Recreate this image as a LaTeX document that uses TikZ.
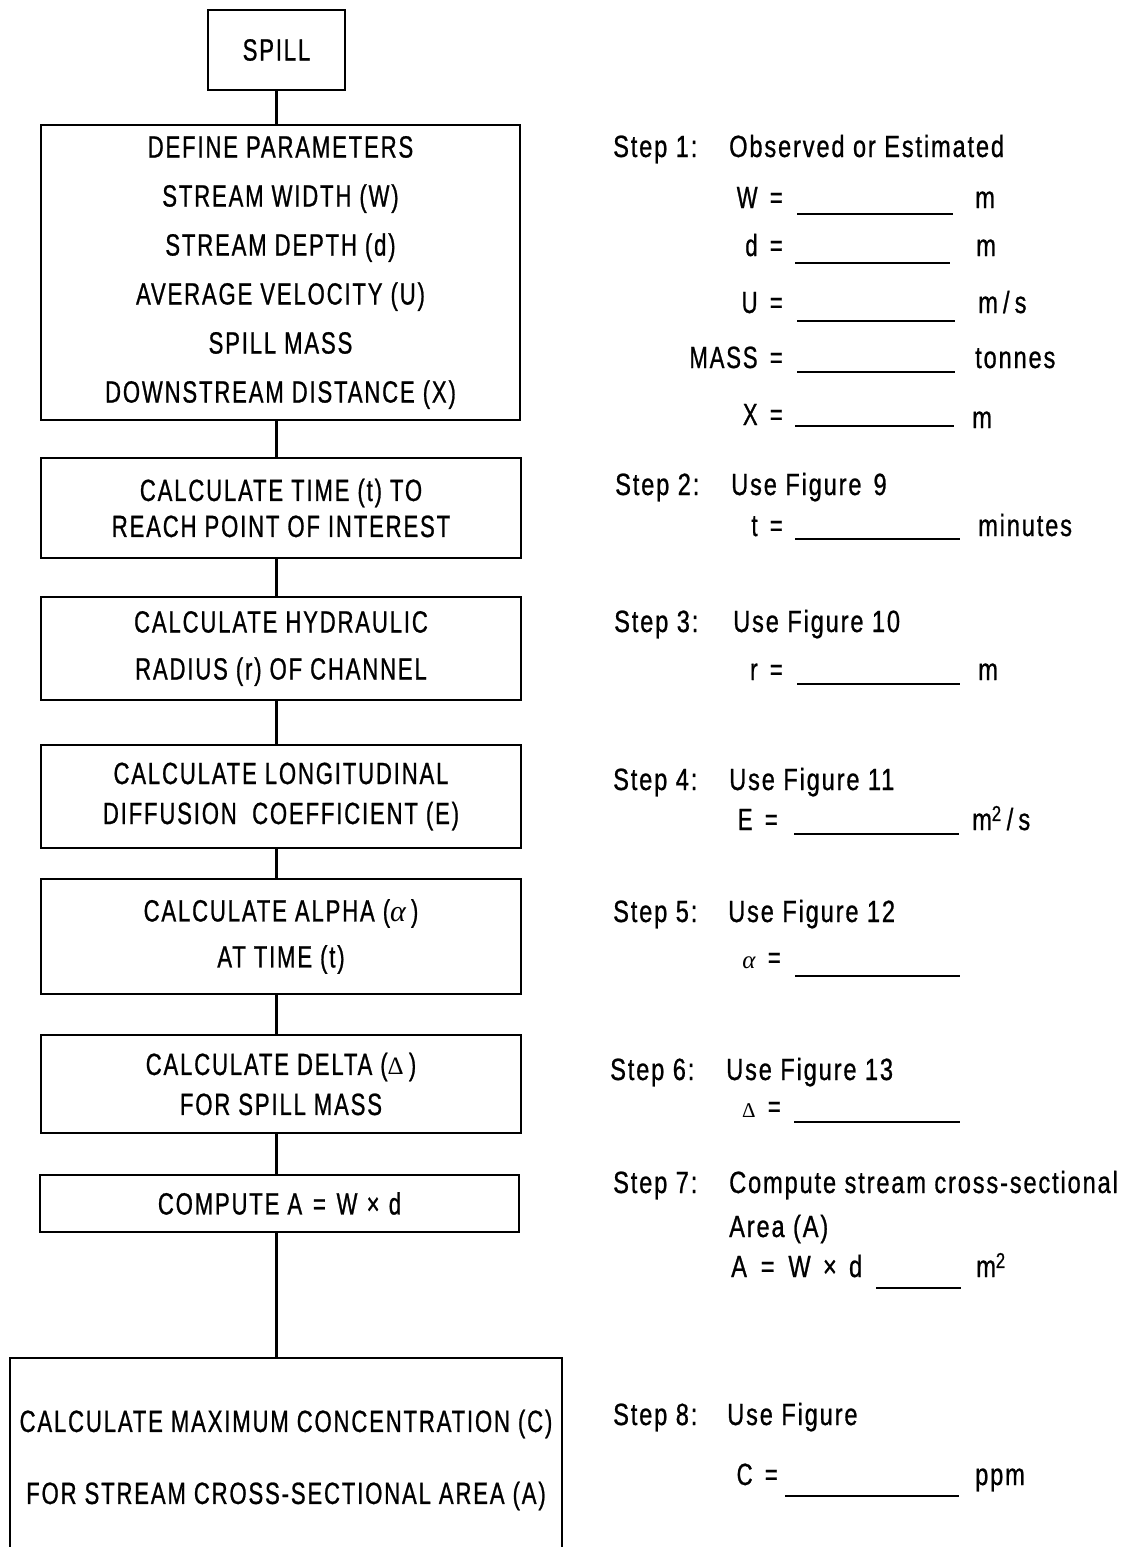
\documentclass[tikz,border=0pt]{standalone}
\usepackage{fontspec}
\setmainfont{Liberation Sans}[FakeStretch=0.72, LetterSpace=6, FakeBold=0.8]
\newfontfamily\notefont{Liberation Sans}[FakeStretch=0.77, LetterSpace=6, FakeBold=0.8]
\newfontfamily\greek{Liberation Serif}
\newcommand{\galpha}[1]{{\greek\itshape\fontsize{#1}{#1}\selectfont α}}
\newcommand{\gdelta}[1]{{\greek\fontsize{#1}{#1}\selectfont Δ}}
\begin{document}
\begin{tikzpicture}[x=1pt,y=-1pt,
  stepbox/.style={draw, line width=2pt, inner sep=0pt, align=center,
    font=\fontsize{30.7pt}{#1}\selectfont},
  link/.style={line width=3.5pt},
  blank/.style={line width=2pt},
  note/.style={anchor=base west, inner sep=0pt,
    font=\notefont\fontsize{30.7pt}{36pt}\selectfont},
  eqlbl/.style={anchor=base east, inner sep=0pt,
    font=\fontsize{30.7pt}{36pt}\selectfont},
  unit/.style={anchor=base west, inner sep=0pt,
    font=\notefont\fontsize{30.7pt}{36pt}\selectfont}]
\useasboundingbox (0,0) rectangle (1137,1547);
\clip (0,0) rectangle (1137,1547);

% flow chart boxes
\node[stepbox=36pt, minimum width=137pt, minimum height=80pt] (spill) at (276.5,50) {SPILL};
\node[stepbox=49pt, minimum width=479pt, minimum height=295pt] (params) at (280.5,272.5)
  {DEFINE PARAMETERS\\STREAM WIDTH (W)\\STREAM DEPTH (d)\\AVERAGE VELOCITY (U)\\SPILL MASS\\DOWNSTREAM DISTANCE (X)};
\node[stepbox=36pt, minimum width=480pt, minimum height=100pt] (time) at (281,508)
  {CALCULATE TIME (t) TO\\REACH POINT OF INTEREST};
\node[stepbox=47pt, minimum width=480pt, minimum height=103pt] (radius) at (281,648.5)
  {CALCULATE HYDRAULIC\\RADIUS (r) OF CHANNEL};
\node[stepbox=40pt, minimum width=480pt, minimum height=103pt] (diffusion) at (281,796.5)
  {CALCULATE LONGITUDINAL\\DIFFUSION\enspace COEFFICIENT (E)};
\node[stepbox=46pt, minimum width=480pt, minimum height=115pt] (alpha) at (281,936.5)
  {CALCULATE ALPHA (\galpha{30pt}\,)\\AT TIME (t)};
\node[stepbox=40pt, minimum width=480pt, minimum height=98pt] (delta) at (281,1084)
  {CALCULATE DELTA (\gdelta{25pt}\,)\\FOR SPILL MASS};
\node[stepbox=36pt, minimum width=479pt, minimum height=57pt] (area) at (279.5,1203.5)
  {COMPUTE A\hspace{0.35em}=\hspace{0.35em}W\hspace{0.3em}×\hspace{0.3em}d};
\node[stepbox=72pt, minimum width=552pt, minimum height=204pt] (conc) at (286,1460)
  {CALCULATE MAXIMUM CONCENTRATION (C)\\FOR STREAM CROSS-SECTIONAL AREA (A)};

% connectors
\draw[link] (spill.south) -- (params.north -| spill.south);
\draw[link] (params.south -| spill.south) -- (time.north -| spill.south);
\draw[link] (time.south -| spill.south) -- (radius.north -| spill.south);
\draw[link] (radius.south -| spill.south) -- (diffusion.north -| spill.south);
\draw[link] (diffusion.south -| spill.south) -- (alpha.north -| spill.south);
\draw[link] (alpha.south -| spill.south) -- (delta.north -| spill.south);
\draw[link] (delta.south -| spill.south) -- (area.north -| spill.south);
\draw[link] (area.south -| spill.south) -- (conc.north -| spill.south);

% step 1
\node[note] (s1) at (613,157) {Step 1:};
\node[note] (s1t) at (729,157) {Observed or Estimated};
\node[eqlbl] (w) at (783,208) {W\hspace{0.4em}=};
\draw[blank] (797,214) -- (953,214);
\node[unit] (wu) at (975,208) {m};
\node[eqlbl] (dd) at (783,256) {d\hspace{0.4em}=};
\draw[blank] (795,263) -- (950,263);
\node[unit] (du) at (976,256) {m};
\node[eqlbl] (u) at (783,313) {U\hspace{0.4em}=};
\draw[blank] (797,321) -- (955,321);
\node[unit] (uu) at (978,313) {m\,/\,s};
\node[eqlbl] (mass) at (783,368) {MASS\hspace{0.4em}=};
\draw[blank] (797,372) -- (955,372);
\node[unit] (massu) at (975,368) {tonnes};
\node[eqlbl] (x) at (783,425) {X\hspace{0.4em}=};
\draw[blank] (795,426) -- (954,426);
\node[unit] (xu) at (972,428) {m};

% step 2
\node[note] (s2) at (615,495) {Step 2:};
\node[note] (s2t) at (731,495) {Use Figure\hspace{12pt}9};
\node[eqlbl] (t) at (783,536) {t\hspace{0.4em}=};
\draw[blank] (795,539) -- (960,539);
\node[unit] (tu) at (978,536) {minutes};

% step 3
\node[note] (s3) at (614,632) {Step 3:};
\node[note] (s3t) at (733,632) {Use Figure 10};
\node[eqlbl] (r) at (783,680) {r\hspace{0.4em}=};
\draw[blank] (797,684) -- (960,684);
\node[unit] (ru) at (978,680) {m};

% step 4
\node[note] (s4) at (613,790) {Step 4:};
\node[note] (s4t) at (729,790) {Use Figure 11};
\node[eqlbl] (e) at (778,830) {E\hspace{0.4em}=};
\draw[blank] (794,834) -- (959,834);
\node[unit] (eu) at (972,830) {m\textsuperscript{2}\,/\,s};

% step 5
\node[note] (s5) at (613,922) {Step 5:};
\node[note] (s5t) at (728,922) {Use Figure 12};
\node[eqlbl] (al) at (781,968) {\galpha{25pt}\hspace{0.4em}=};
\draw[blank] (795,976) -- (960,976);

% step 6
\node[note] (s6) at (610,1080) {Step 6:};
\node[note] (s6t) at (726,1080) {Use Figure 13};
\node[eqlbl] (de) at (781,1117) {\gdelta{21pt}\hspace{0.4em}=};
\draw[blank] (794,1122) -- (960,1122);

% step 7
\node[note] (s7) at (613,1193) {Step 7:};
\node[note] (s7t) at (729,1193) {Compute stream cross-sectional};
\node[note] (s7a) at (729,1237) {Area (A)};
\node[note] (s7e) at (731,1277) {A\hspace{0.45em}=\hspace{0.45em}W\hspace{0.4em}×\hspace{0.4em}d};
\draw[blank] (876,1288) -- (961,1288);
\node[unit] (au) at (976,1277) {m\textsuperscript{2}};

% step 8
\node[note] (s8) at (613,1425) {Step 8:};
\node[note] (s8t) at (727,1425) {Use Figure};
\node[eqlbl] (c) at (778,1485) {C\hspace{0.4em}=};
\draw[blank] (785,1496) -- (959,1496);
\node[unit] (cu) at (975,1485) {ppm};
\end{tikzpicture}
\end{document}
